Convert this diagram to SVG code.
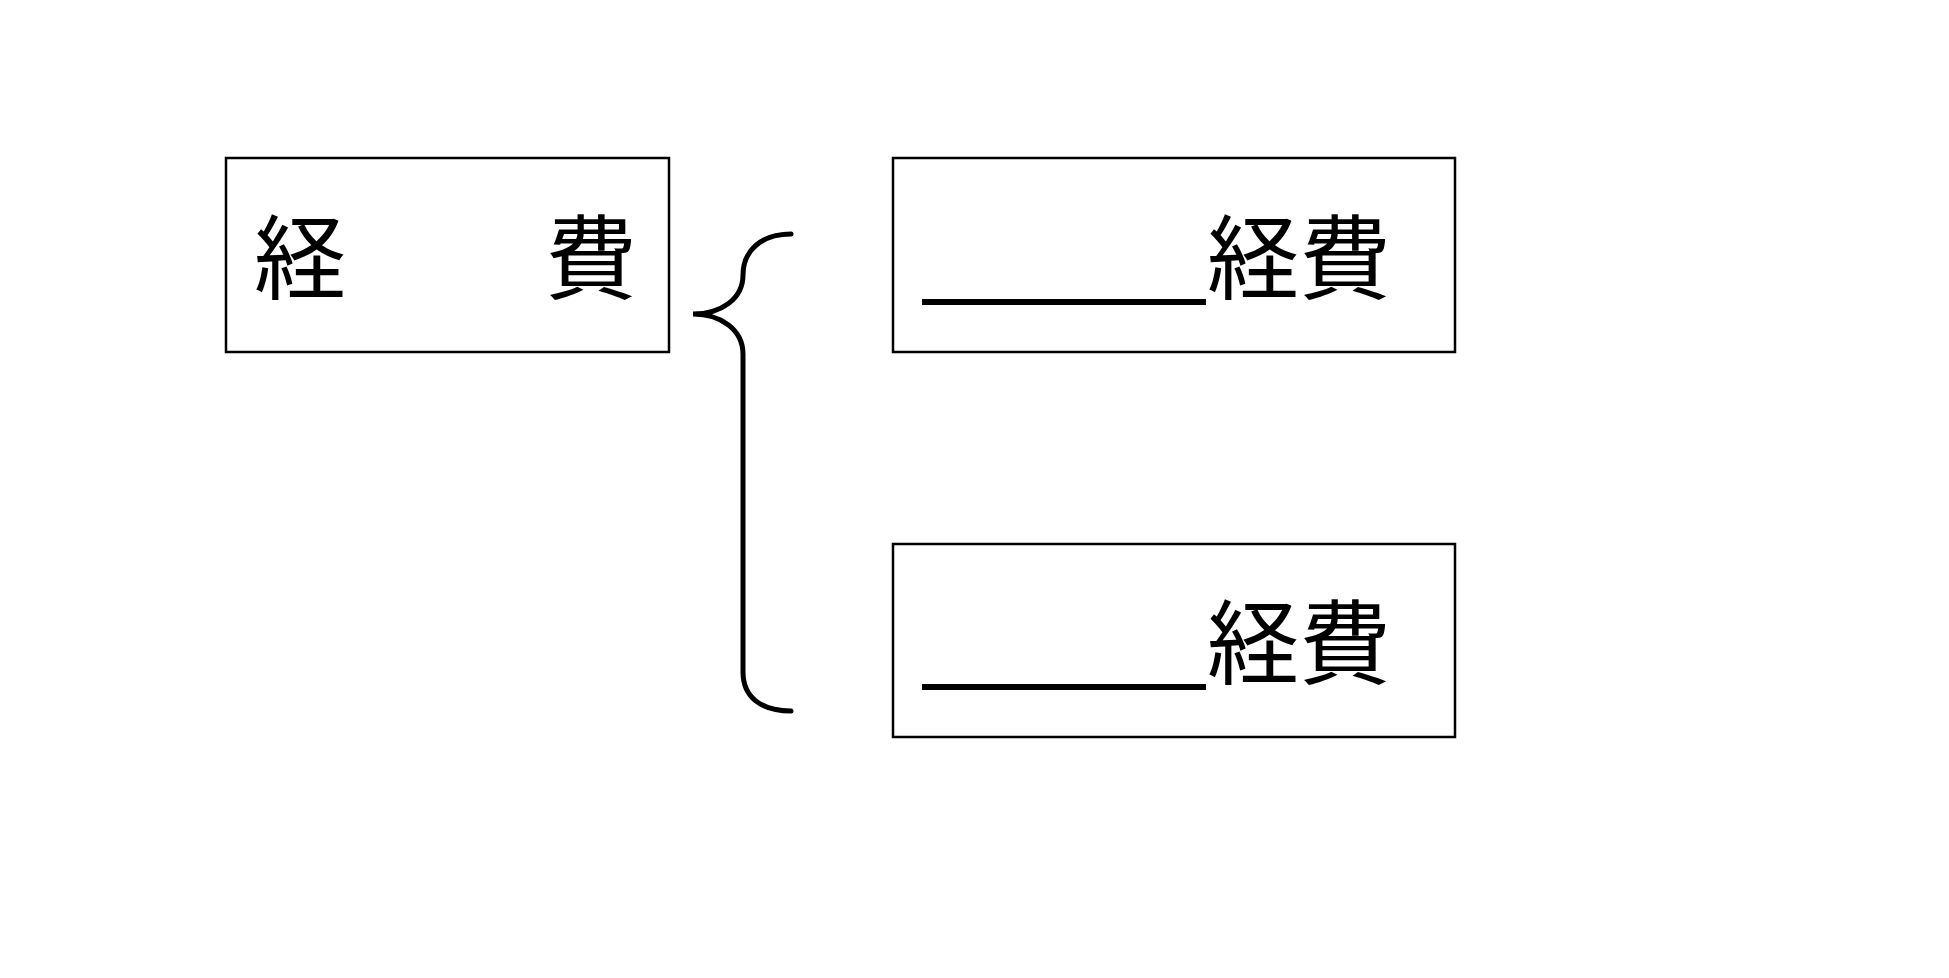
<svg xmlns="http://www.w3.org/2000/svg" width="1949" height="978" viewBox="0 0 1949 978">
<style>
.box{fill:#fff;stroke:#000;stroke-width:2.5}
.t{font-family:"Liberation Serif","Noto Sans CJK JP",serif;font-size:92px;fill:#000}
.blank{stroke:#000;stroke-width:6}
.brace{fill:none;stroke:#000;stroke-width:5;stroke-linecap:round}
</style>
<rect width="1949" height="978" fill="#fff"/>
<g id="node-total">
<rect class="box" x="226" y="158" width="443" height="194"/>
<text class="t" x="254 545" y="292">経費</text>
</g>
<g id="node-a">
<rect class="box" x="893" y="158" width="562" height="194"/>
<line class="blank" x1="922" y1="302" x2="1206" y2="302"/>
<text class="t" x="1207" y="292">経費</text>
</g>
<g id="node-b">
<rect class="box" x="893" y="544" width="562" height="193"/>
<line class="blank" x1="922" y1="687" x2="1206" y2="687"/>
<text class="t" x="1207" y="677">経費</text>
</g>
<g id="connectors">
<path class="brace" d="M791,234 C761,234 743,251 743,275 C743,299 721,314 693,314 C721,314 743,330 743,354 L743,672 C743,697 761,711 791,711"/>
</g>
</svg>
